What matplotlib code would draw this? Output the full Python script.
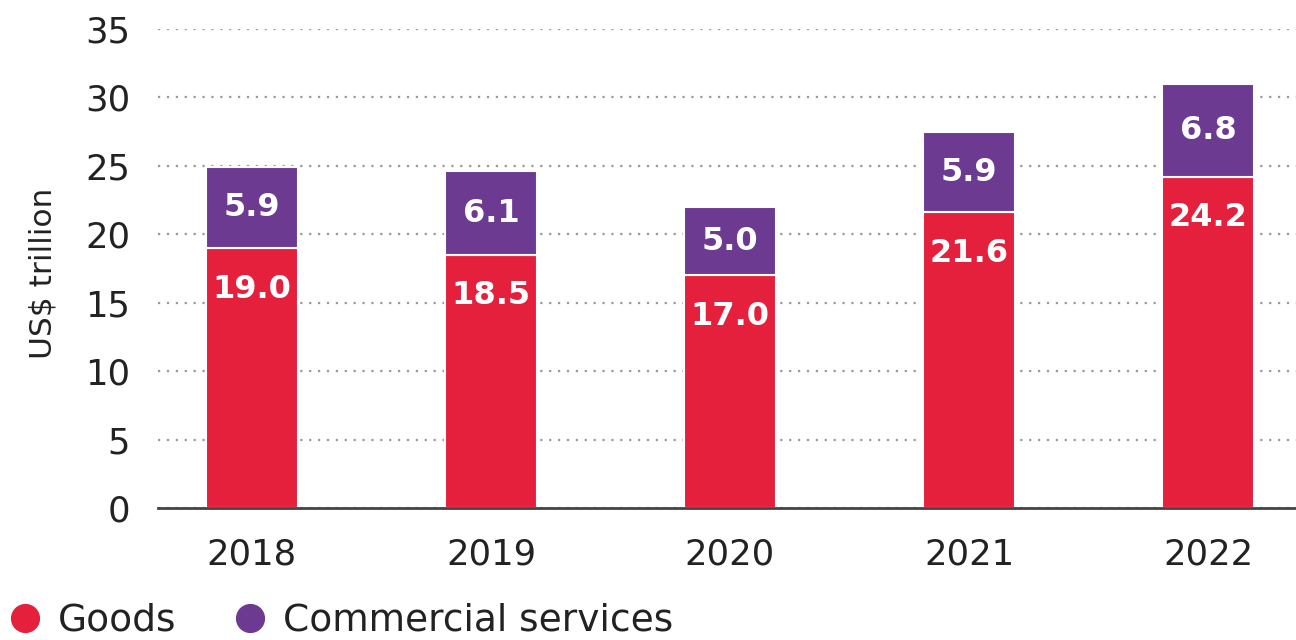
import matplotlib
matplotlib.use("Agg")
import matplotlib.pyplot as plt
from matplotlib.lines import Line2D
import numpy as np

years = ["2018", "2019", "2020", "2021", "2022"]
goods = [19.0, 18.5, 17.0, 21.6, 24.2]
services = [5.9, 6.1, 5.0, 5.9, 6.8]
yticks = [0, 5, 10, 15, 20, 25, 30, 35]

red = "#E4203C"
purple = "#6C3A91"

plt.rcParams['font.family'] = ['DejaVu Sans']

fig = plt.figure(figsize=(12.96, 6.4), dpi=100)
ax = fig.add_axes([158/1296, 1-508/640, 1-158/1296, (508-29)/640])

x = np.arange(len(years))
w = 0.385
ax.bar(x, goods, width=w, color=red, edgecolor="white", linewidth=1.5, zorder=3)
ax.bar(x, services, width=w, bottom=goods, color=purple, edgecolor="white", linewidth=1.5, zorder=3)

for xi, g, s in zip(x, goods, services):
    ax.text(xi, g - 3.0, f"{g:.1f}", ha="center", va="center", color="white",
            fontsize=23, fontweight="bold", zorder=4)
    ax.text(xi, g + s/2, f"{s:.1f}", ha="center", va="center", color="white",
            fontsize=23, fontweight="bold", zorder=4)

ax.set_xlim(-0.393, 4.368)
ax.set_ylim(0, 35)
ax.set_yticks(yticks)
ax.set_xticks(x)
ax.set_xticklabels(years)
ax.tick_params(axis="both", length=0, labelsize=25.5, colors="#222222")
ax.tick_params(axis="y", pad=20)
ax.tick_params(axis="x", pad=21)
ax.yaxis.grid(True, linestyle=(0, (1, 3)), color="#999999", linewidth=1.6)
ax.set_axisbelow(True)
for sp in ["top", "right", "left"]:
    ax.spines[sp].set_visible(False)
ax.spines["bottom"].set_color("#444444")
ax.spines["bottom"].set_linewidth(2)
ax.spines["bottom"].set_zorder(5)

ax.set_ylabel("US$ trillion", fontsize=22.5, color="#222222")
ax.yaxis.set_label_coords(-0.088, 0.49)

handles = [Line2D([0], [0], marker="o", linestyle="", markersize=20, markerfacecolor=red, markeredgecolor=red),
           Line2D([0], [0], marker="o", linestyle="", markersize=20, markerfacecolor=purple, markeredgecolor=purple)]
fig.legend(handles, ["Goods", "Commercial services"], loc="center left",
           bbox_to_anchor=(0.0046, 0.030), ncol=2, frameon=False, fontsize=27,
           handletextpad=0.38, columnspacing=1.47, handlelength=1.0, borderaxespad=0,
           borderpad=0, labelcolor="#222222")

fig.savefig("out.png", dpi=100)
